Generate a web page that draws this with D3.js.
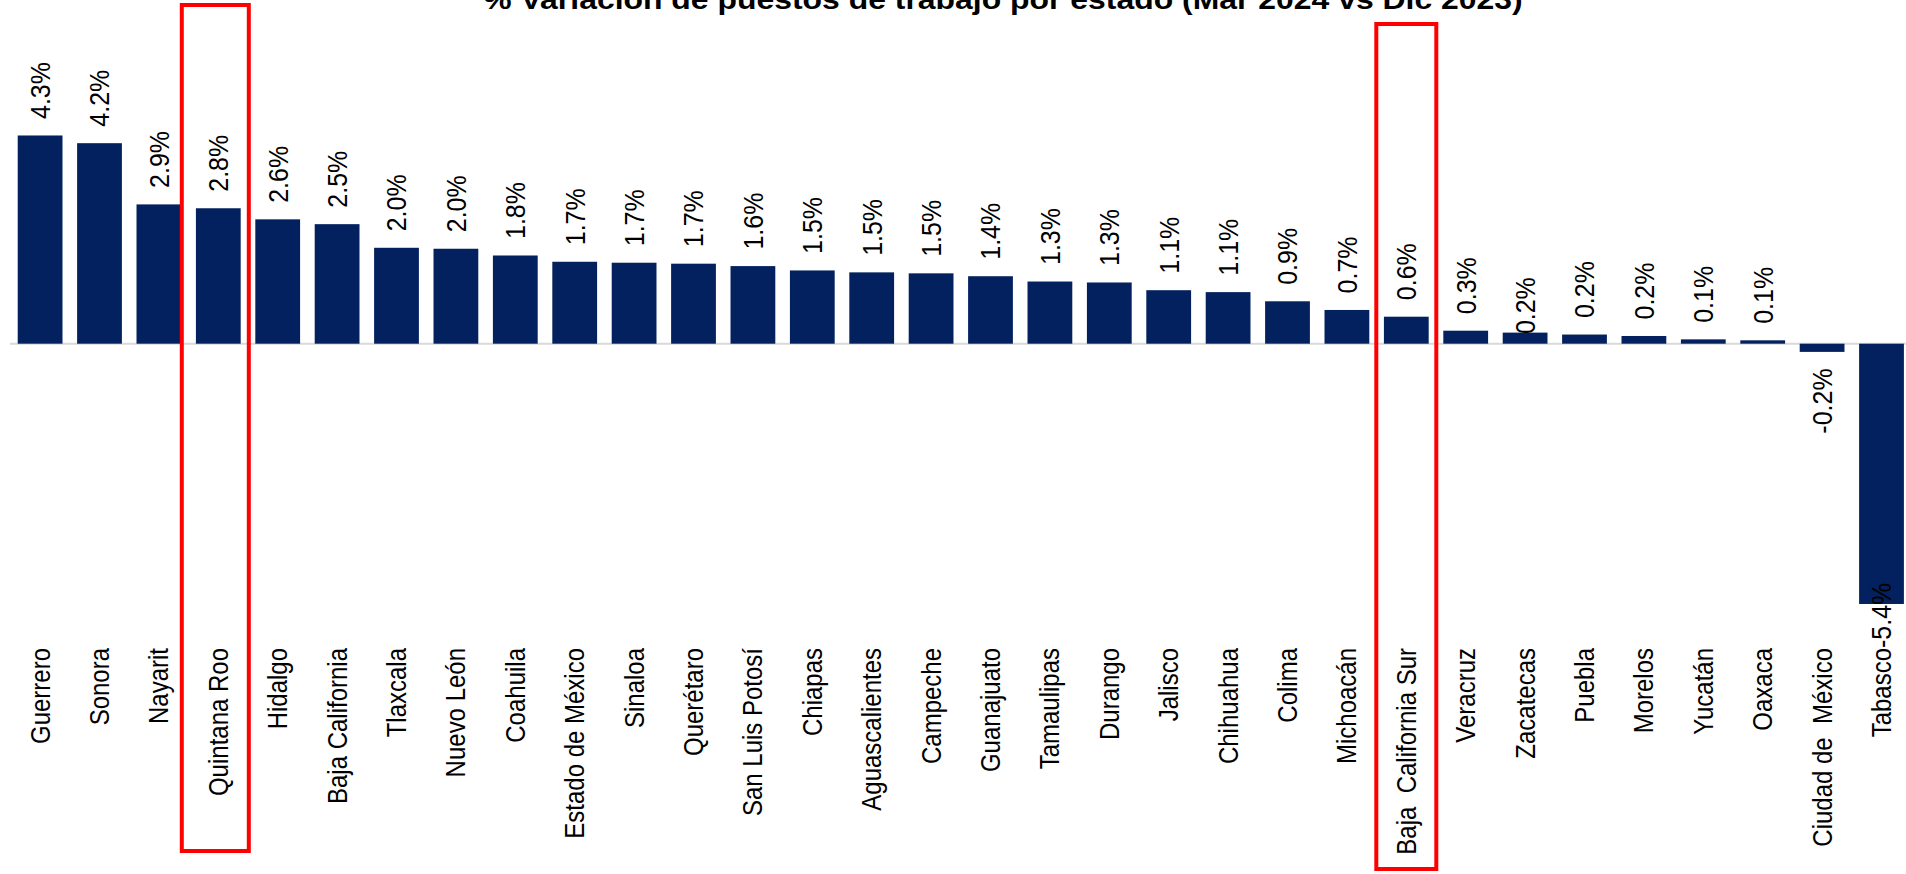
<!DOCTYPE html>
<html>
<head>
<meta charset="utf-8">
<script src="https://cdn.jsdelivr.net/npm/d3@7"></script>
<style>
  html, body { margin: 0; padding: 0; background: #ffffff; }
  svg { display: block; }
  text { font-family: "Liberation Sans", Arial, sans-serif; }
</style>
</head>
<body>
<svg id="chart" width="1906" height="874"></svg>
<script>
// ---- Data ----
const titleText = "% Variación de puestos de trabajo por estado (Mar 2024 vs Dic 2023)";
const categories = ["Guerrero","Sonora","Nayarit","Quintana Roo","Hidalgo","Baja California","Tlaxcala","Nuevo León","Coahuila","Estado de México","Sinaloa","Querétaro","San Luis Potosí","Chiapas","Aguascalientes","Campeche","Guanajuato","Tamaulipas","Durango","Jalisco","Chihuahua","Colima","Michoacán","Baja  California Sur","Veracruz","Zacatecas","Puebla","Morelos","Yucatán","Oaxaca","Ciudad de  México","Tabasco"];
const values = [4.32,4.16,2.89,2.81,2.58,2.48,1.99,1.97,1.83,1.70,1.68,1.66,1.61,1.52,1.48,1.46,1.40,1.29,1.27,1.11,1.07,0.88,0.70,0.56,0.27,0.23,0.19,0.16,0.09,0.07,-0.17,-5.40];

// ---- Layout / style ----
const W = 1906, H = 874;
const stretch = 1.12;           // horizontal text stretch seen in the reference
const barColor = "#03215f";
const labelGap = 16.5;
const catTop = 648;             // top (end) of the rotated category labels
const labelNudge = { "Zacatecas": 18 };

const svg = d3.select("#chart");

const x = d3.scaleBand()
  .domain(categories)
  .range([10.4, 1911.2])
  .paddingInner(0.246)
  .paddingOuter(0.123);

const y = d3.scaleLinear()
  .domain([-6, 5])
  .range([343.7 + 6 * 48.2, 343.7 - 5 * 48.2]);

const locale = d3.formatLocale({ decimal: ".", thousands: ",", grouping: [3], currency: ["$", ""], minus: "-" });
const fmt = locale.format(".1f");
const data = categories.map((c, i) => ({ c, v: values[i] }));

// Zero line
svg.append("line")
  .attr("x1", 10).attr("x2", W)
  .attr("y1", y(0)).attr("y2", y(0))
  .attr("stroke", "#d9d9d9").attr("stroke-width", 2);

// Bars
svg.append("g").selectAll("rect").data(data).join("rect")
  .attr("x", d => x(d.c))
  .attr("width", x.bandwidth())
  .attr("y", d => y(Math.max(0, d.v)))
  .attr("height", d => Math.abs(y(d.v) - y(0)))
  .attr("fill", barColor);

// Data labels (rotated)
const lbl = svg.append("g").selectAll("text").data(data).join("text")
  .attr("font-size", 25)
  .attr("fill", "#000")
  .attr("dy", "0.35em")
  .text(d => fmt(d.v) + "%");

lbl.each(function(d) {
  const t = d3.select(this);
  const len = this.getComputedTextLength();
  const cx = x(d.c) + x.bandwidth() / 2;
  if (d.v >= 0) {
    const yb = y(d.v) - labelGap + (labelNudge[d.c] || 0);
    t.attr("text-anchor", "start")
     .attr("transform", `translate(${cx},${yb}) scale(${stretch},1) rotate(-90)`);
  } else {
    let ye = y(d.v) + labelGap;
    if (ye + len > catTop) ye = catTop - len;
    t.attr("text-anchor", "end")
     .attr("transform", `translate(${cx},${ye}) scale(${stretch},1) rotate(-90)`);
  }
});

// Category labels (rotated)
svg.append("g").selectAll("text").data(categories).join("text")
  .attr("font-size", 24)
  .attr("fill", "#000")
  .attr("text-anchor", "end")
  .attr("dy", "0.35em")
  .style("white-space", "pre")
  .attr("transform", c => `translate(${x(c) + x.bandwidth() / 2},${catTop}) scale(${stretch},1) rotate(-90)`)
  .text(c => c);

// Title (partially cut off at the top, as in the reference)
svg.append("text")
  .attr("font-size", 28.5)
  .attr("font-weight", "bold")
  .attr("fill", "#000")
  .attr("text-anchor", "middle")
  .attr("transform", `translate(1003,9) scale(${stretch},1)`)
  .text(titleText);

// Red highlight boxes
const boxes = [
  { c: "Quintana Roo", w: 67, y0: 5, y1: 851, dx: -3 },
  { c: "Baja  California Sur", w: 60, y0: 24, y1: 869, dx: 0 }
];
svg.append("g").selectAll("rect").data(boxes).join("rect")
  .attr("x", b => x(b.c) + x.bandwidth() / 2 + b.dx - b.w / 2)
  .attr("y", b => b.y0)
  .attr("width", b => b.w)
  .attr("height", b => b.y1 - b.y0)
  .attr("fill", "none")
  .attr("stroke", "#ff0000")
  .attr("stroke-width", 4);
</script>
</body>
</html>
